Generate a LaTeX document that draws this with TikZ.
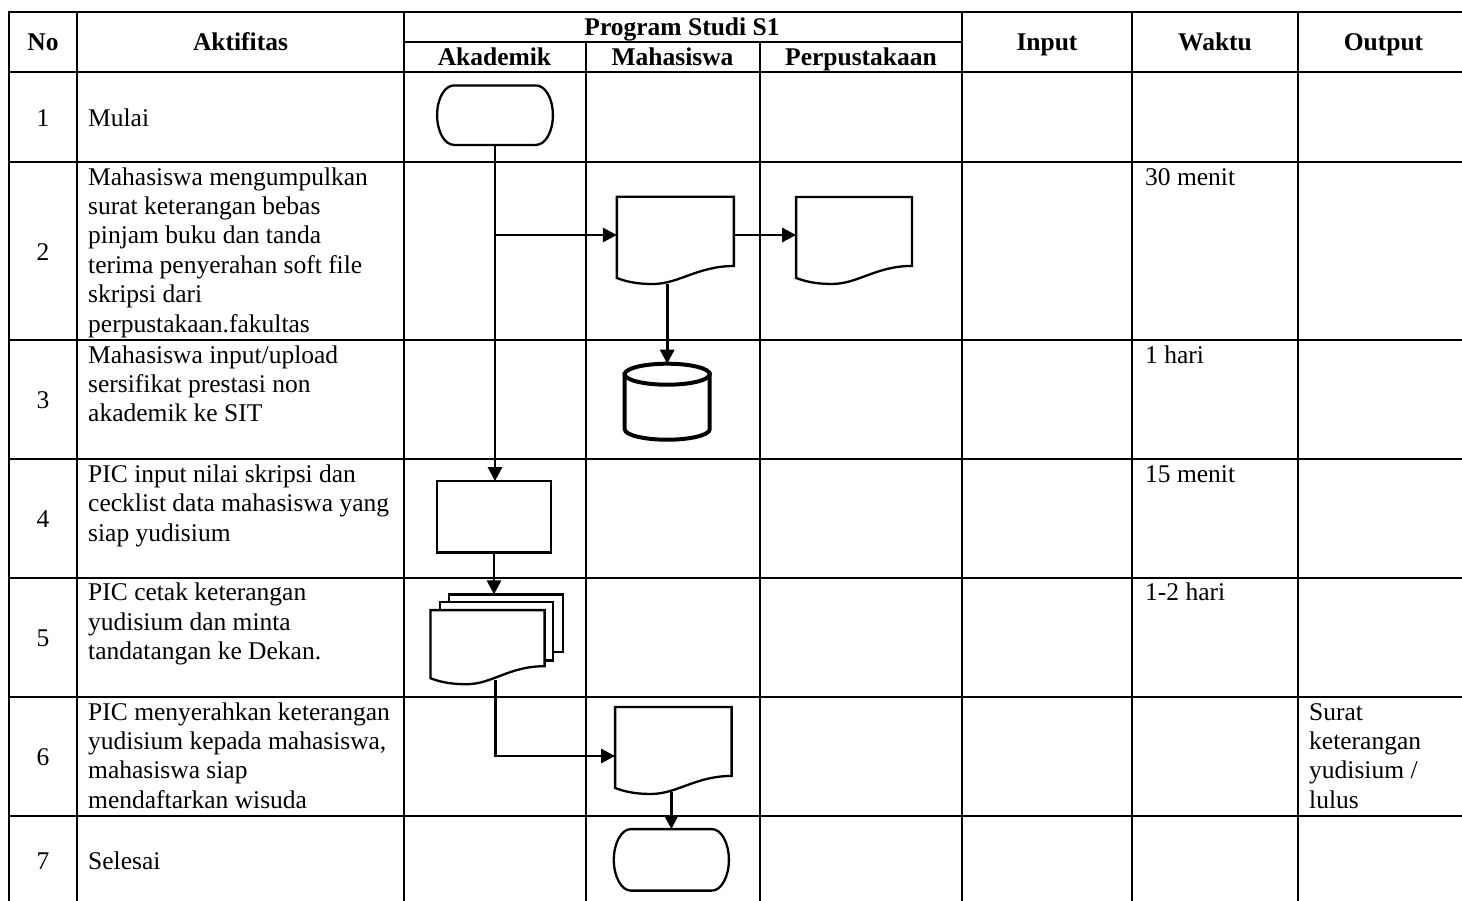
\documentclass[tikz,border=0pt]{standalone}
\usepackage{fontspec}
\setmainfont{Liberation Serif}
\usetikzlibrary{arrows.meta,calc}
\newcommand\bodyfont{\fontsize{25.5}{29.4}\selectfont}
\newcommand\termdraw[1]{%
  \draw[shp] ($(#1.north west)+(17,0)$) -- ($(#1.north east)+(-17,0)$)
    .. controls ($(#1.north east)+(-7.6,0)$) and ($(#1.east)+(0,-16.8)$) .. (#1.east)
    .. controls ($(#1.east)+(0,16.8)$) and ($(#1.south east)+(-7.6,0)$) .. ($(#1.south east)+(-17,0)$)
    -- ($(#1.south west)+(17,0)$)
    .. controls ($(#1.south west)+(7.6,0)$) and ($(#1.west)+(0,16.8)$) .. (#1.west)
    .. controls ($(#1.west)+(0,-16.8)$) and ($(#1.north west)+(7.6,0)$) .. cycle;}
\newcommand\docdraw[1]{%
  \draw[shp] (#1.south west) -- (#1.north west) -- (#1.north east) -- ($(#1.south east)+(0,-12)$)
    .. controls ($(#1.south east)+(-36,-12)$) and ($(#1.south west)+(62,6)$) .. ($(#1.south west)+(36,6)$)
    .. controls ($(#1.south west)+(18,6)$) and ($(#1.south west)+(8,3)$) .. cycle;}
\newcommand\cyldraw[1]{%
  \draw[cyl] ($(#1.north west)+(0,10.5)$) -- ($(#1.south west)+(0,-10.5)$)
    .. controls ($(#1.south west)+(0,-4.7)$) and ($(#1.south)+(-23.5,0)$) .. (#1.south)
    .. controls ($(#1.south)+(23.5,0)$) and ($(#1.south east)+(0,-4.7)$) .. ($(#1.south east)+(0,-10.5)$)
    -- ($(#1.north east)+(0,10.5)$) -- cycle;
  \draw[cyl] ($(#1.north)+(0,10.5)$) ellipse [x radius=42.5pt, y radius=10.5pt];}
\begin{document}
\begin{tikzpicture}[x=1pt,y=-1pt,
  grid/.style={line width=1.9pt, line cap=rect},
  shp/.style={line width=2.3pt, fill=white},
  cyl/.style={line width=4pt, fill=white},
  arr/.style={line width=2.8pt, -{Triangle[length=14pt,width=14pt]}},
  box/.style={inner sep=0pt, outer sep=0pt, draw=none},
  hd/.style={font=\bodyfont\bfseries, inner sep=0pt, anchor=base},
  num/.style={font=\bodyfont, inner sep=0pt, anchor=base},
  cell/.style={font=\bodyfont, inner sep=0pt, anchor=north west, align=left},
]
\useasboundingbox (0,0) rectangle (1462,900);
\fill[white] (0,0) rectangle (1462,900);

% table grid
\draw[grid] (9.3,11.7) -- (1462,11.7);
\draw[grid] (404,41.7) -- (962,41.7);
\foreach \y in {72,162,340,459.3,577.7,697,816} \draw[grid] (9.3,\y) -- (1462,\y);
\foreach \x in {9.3,77.3,404,962,1132.3,1297.7} \draw[grid] (\x,11.7) -- (\x,900);
\foreach \x in {586,760} \draw[grid] (\x,41.7) -- (\x,900);

% headers
\node[hd] (hNo)  at (43,50.5)    {No};
\node[hd] (hAkt) at (240.5,50.5) {Aktifitas};
\node[hd] (hPS)  at (682,35.5)   {Program Studi S1};
\node[hd] (hAka) at (494.5,65.5) {Akademik};
\node[hd] (hMhs) at (672.5,65.5) {Mahasiswa};
\node[hd] (hPer) at (861,65.5)   {Perpustakaan};
\node[hd] (hIn)  at (1047,50.5)  {Input};
\node[hd] (hWak) at (1215,50.5)  {Waktu};
\node[hd] (hOut) at (1383.5,50.5) {Output};

% numbers
\node[num] (n1) at (43,126)   {1};
\node[num] (n2) at (43,260)   {2};
\node[num] (n3) at (43,408.7) {3};
\node[num] (n4) at (43,527.5) {4};
\node[num] (n5) at (43,646.3) {5};
\node[num] (n6) at (43,765.5) {6};
\node[num] (n7) at (43,869.3) {7};

% activities
\node[num, anchor=base west] (a1) at (88,126) {Mulai};
\node[cell] (a2) at (88,164.4) {\strut Mahasiswa mengumpulkan\\surat keterangan bebas\\pinjam buku dan tanda\\terima penyerahan soft file\\skripsi dari\\perpustakaan.fakultas};
\node[cell] (a3) at (88,342.4) {\strut Mahasiswa input/upload\\sersifikat prestasi non\\akademik ke SIT};
\node[cell] (a4) at (88,461.7) {\strut PIC input nilai skripsi dan\\cecklist data mahasiswa yang\\siap yudisium};
\node[cell] (a5) at (88,580.1) {\strut PIC cetak keterangan\\yudisium dan minta\\tandatangan ke Dekan.};
\node[cell] (a6) at (88,699.4) {\strut PIC menyerahkan keterangan\\yudisium kepada mahasiswa,\\mahasiswa siap\\mendaftarkan wisuda};
\node[num, anchor=base west] (a7) at (88,869.3) {Selesai};

% waktu / output
\node[num, anchor=base west] (w2) at (1145,185)   {30 menit};
\node[num, anchor=base west] (w3) at (1145,363)   {1 hari};
\node[num, anchor=base west] (w4) at (1145,482.3) {15 menit};
\node[num, anchor=base west] (w5) at (1145,600.7) {1-2 hari};
\node[cell] (o6) at (1309,699.4) {\strut Surat\\keterangan\\yudisium /\\lulus};

% flow shapes
\node[box, minimum width=115.8pt, minimum height=59.5pt] (start) at (495,115.15) {};
\termdraw{start}
\node[box, minimum width=117pt, minimum height=81.2pt] (doc1) at (675.35,237.4) {};
\docdraw{doc1}
\node[box, minimum width=115.8pt, minimum height=80.9pt] (doc2) at (854,237.5) {};
\docdraw{doc2}
\node[box, minimum width=85pt, minimum height=76pt] (cyl) at (667.2,401.7) {};
\cyldraw{cyl}
\node[box, minimum width=113.8pt, minimum height=71.5pt] (proc) at (494,516.85) {};
\draw[shp] (proc.north west) rectangle (proc.south east);
\node[box, minimum width=114.1pt, minimum height=57.8pt] (mdb) at (505.85,623.3) {};
\draw[shp] (mdb.north west) rectangle (mdb.south east);
\node[box, minimum width=113.1pt, minimum height=58.8pt] (mdm) at (496.35,631.2) {};
\draw[shp] (mdm.north west) rectangle (mdm.south east);
\node[box, minimum width=114.2pt, minimum height=68.1pt] (mdf) at (487.5,644.15) {};
\docdraw{mdf}
\node[box, minimum width=116.5pt, minimum height=80.9pt] (doc3) at (673.35,747.5) {};
\docdraw{doc3}
\node[box, minimum width=115.1pt, minimum height=61.5pt] (end) at (671.35,859.85) {};
\termdraw{end}

% connectors
\coordinate (br) at (495,235);
\coordinate (elbow) at (495.7,756);
\draw[arr] (start.south) -- (start.south |- proc.north);
\draw[arr] (br) -- (doc1.west |- br);
\draw[arr] (doc1.east |- br) -- (doc2.west |- br);
\draw[arr] ($(cyl.north |- doc1.south)+(0,6)$) -- (cyl.north);
\draw[arr] (proc.south) -- (proc.south |- mdb.north);
\draw[arr] ($(elbow |- mdf.south)+(0,2)$) -- (elbow) -- (elbow -| doc3.west);
\draw[arr] ($(end.north |- doc3.south)+(0,4)$) -- (end.north);
\end{tikzpicture}
\end{document}
